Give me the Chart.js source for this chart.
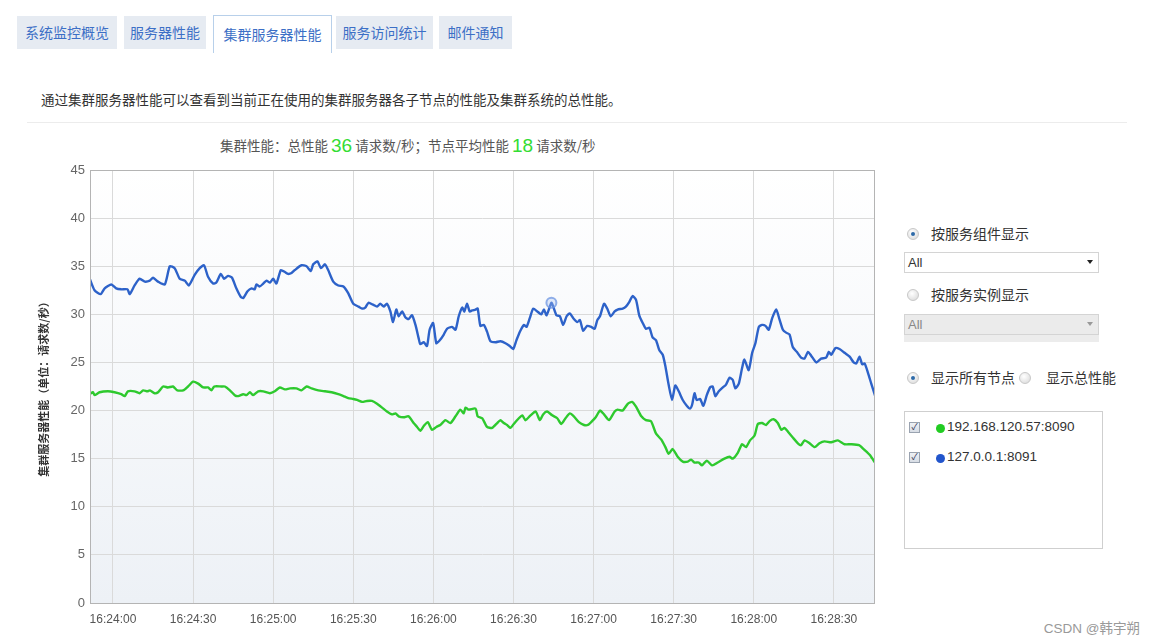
<!DOCTYPE html>
<html>
<head>
<meta charset="utf-8">
<script src="https://cdn.jsdelivr.net/npm/chart.js@4.4.0/dist/chart.umd.min.js"></script>
<style>
  html,body{margin:0;padding:0;background:#fff;width:1157px;height:643px;overflow:hidden;
    font-family:"Liberation Sans","Noto Sans CJK SC",sans-serif;}
  .abs{position:absolute;}
  .tab{position:absolute;top:16px;height:33px;line-height:33px;background:#e6ebf2;color:#3c6fc6;
    font-size:14px;text-align:center;font-family:"Noto Sans CJK SC",sans-serif;}
  .tab.active{background:#fff;border:1px solid #b8d0ea;border-bottom:none;top:15px;height:37px;line-height:37px;}
  .desc{left:41px;top:89px;font-size:13.5px;color:#333;font-family:"Noto Sans CJK SC",sans-serif;}
  .hr{left:27px;top:122px;width:1100px;height:1px;background:#ececec;}
  .ctitle{left:220px;top:135px;font-size:13.5px;color:#555;font-family:"Noto Sans CJK SC",sans-serif;white-space:nowrap;}
  .ctitle .num{color:#33dd33;font-size:19px;font-family:"Liberation Sans",sans-serif;vertical-align:-1px;}
  .radio{position:absolute;width:10px;height:10px;border-radius:50%;border:1px solid #c8c8c8;
    background:radial-gradient(circle at 40% 35%,#fff,#d6d6d6);}
  .radio.on::after{content:"";position:absolute;left:3px;top:3px;width:4px;height:4px;border-radius:50%;background:#2d6aa8;}
  .lbl{position:absolute;font-size:14px;color:#333;font-family:"Noto Sans CJK SC",sans-serif;white-space:nowrap;}
  .sel{position:absolute;left:904px;width:193px;height:19px;border:1px solid #d4d4d4;background:#fff;
    font-size:13px;color:#333;line-height:19px;}
  .sel span{margin-left:3px;}
  .sel .arr{position:absolute;right:5px;top:7px;width:0;height:0;border-left:3.5px solid transparent;border-right:3.5px solid transparent;border-top:4px solid #222;}
  .sel.dis{background:#ebebeb;color:#888;}
  .sel.dis .arr{border-top-color:#999;}
  .box{position:absolute;left:904px;top:411px;width:197px;height:136px;border:1px solid #cfcfcf;background:#fff;}
  .chk{position:absolute;width:9px;height:9px;border:1px solid #9aa3b0;background:linear-gradient(#eef1f5,#d8dde5);
    font-size:9px;line-height:9px;text-align:center;color:#335;}
  .dot{position:absolute;width:9px;height:9px;border-radius:50%;}
  .item{position:absolute;font-size:13.5px;color:#333;white-space:nowrap;}
  .wm{right:17px;top:617px;font-size:13.5px;color:#999;font-family:"Liberation Sans","Noto Sans CJK SC",sans-serif;}
</style>
</head>
<body>
<div class="tab" style="left:17px;width:100px;">系统监控概览</div>
<div class="tab" style="left:124px;width:82px;">服务器性能</div>
<div class="tab active" style="left:213px;width:117px;">集群服务器性能</div>
<div class="tab" style="left:336px;width:97px;">服务访问统计</div>
<div class="tab" style="left:439px;width:73px;">邮件通知</div>

<div class="abs desc">通过集群服务器性能可以查看到当前正在使用的集群服务器各子节点的性能及集群系统的总性能。</div>
<div class="abs hr"></div>
<div class="abs ctitle">集群性能：总性能 <span class="num">36</span> 请求数/秒；节点平均性能 <span class="num">18</span> 请求数/秒</div>

<div class="abs" style="left:0;top:150px;width:900px;height:490px;"><canvas id="c" width="900" height="490"></canvas></div>

<div class="radio on" style="left:907px;top:228px;"></div>
<div class="lbl" style="left:931px;top:223px;">按服务组件显示</div>
<div class="sel" style="top:252px;"><span>All</span><div class="arr"></div></div>
<div class="radio" style="left:907px;top:289px;"></div>
<div class="lbl" style="left:931px;top:284px;">按服务实例显示</div>
<div class="sel dis" style="top:314px;"><span>All</span><div class="arr"></div></div>
<div class="abs" style="left:904px;top:335px;width:195px;height:7px;background:#ececec;"></div>
<div class="radio on" style="left:907px;top:372px;"></div>
<div class="lbl" style="left:931px;top:367px;">显示所有节点</div>
<div class="radio" style="left:1019px;top:372px;"></div>
<div class="lbl" style="left:1046px;top:367px;">显示总性能</div>
<div class="box"></div>
<div class="chk" style="left:909px;top:422px;">✓</div>
<div class="dot" style="left:936px;top:424px;background:#22cc22;"></div>
<div class="item" style="left:947px;top:419px;">192.168.120.57:8090</div>
<div class="chk" style="left:909px;top:452px;">✓</div>
<div class="dot" style="left:936px;top:454px;background:#2255cc;"></div>
<div class="item" style="left:947px;top:449px;">127.0.0.1:8091</div>

<div class="abs wm">CSDN @韩宇朔</div>

<script>
// x values are seconds relative to 16:24:00
const xTickLabels = ['16:24:00','16:24:30','16:25:00','16:25:30','16:26:00','16:26:30','16:27:00','16:27:30','16:28:00','16:28:30'];
const yTicks = [0,5,10,15,20,25,30,35,40,45];
const seriesNames = ['192.168.120.57:8090','127.0.0.1:8091'];

const blueT = [-8.7,-6.9,-4.6,-3.1,-0.6,1.2,3.1,5.4,6.3,8.1,10.0,11.9,13.8,15.0,16.9,19.4,21.3,23.1,25.0,26.9,28.4,30.6,32.5,34.1,35.6,37.5,38.7,40.4,41.6,43.1,44.6,46.2,47.9,48.8,50.4,51.9,53.1,53.7,55.0,56.3,57.5,58.8,60.0,61.2,62.9,64.4,65.6,66.9,68.1,70.6,72.5,74.1,75.0,76.6,77.9,79.4,80.6,82.5,84.4,86.3,88.1,90.0,
 92.0,93.3,94.5,95.7,97.4,98.9,100.1,101.4,102.6,103.9,104.9,106.1,107.0,108.3,109.5,110.7,112.0,113.3,114.5,115.1,116.4,117.6,118.6,119.9,121.1,122.4,123.9,125.1,127.0,128.3,129.5,130.8,131.6,132.6,133.6,134.5,135.8,136.6,137.6,138.9,140.1,141.4,143.3,145.1,147.0,148.6,149.9,151.1,152.4,153.9,154.9,156.1,157.4,158.9,160.4,161.4,162.4,164.2,164.9,166.1,167.4,168.6,169.9,171.1,172.4,173.9,174.9,176.1,177.6,179.1,180.4,181.4,182.4,183.9,185.1,186.4,187.9,
 189.0,190.9,192.1,193.4,194.6,195.9,197.1,198.4,199.6,200.9,202.1,203.4,204.6,205.9,206.9,208.1,209.4,210.6,211.9,213.4,214.9,216.1,216.9,217.8,218.6,219.9,221.1,222.4,223.6,224.6,225.6,226.9,228.4,229.6,230.9,232.1,233.1,234.4,235.6,236.5,238.1,239.4,240.6,241.9,243.1,244.4,245.6,246.9,248.4,249.6,250.9,252.1,253.4,254.6,256.1,257.7,259.0,260.3,261.5,263.4,265.2,267.1,268.1,269.0,270.6,272.1,274.0,275.9,277.4,278.4,279.6,280.6,281.5,282.8,284.0,285.6];
const blueV = [33.7,32.5,32.1,32.7,33.1,32.7,32.6,32.6,32.1,33.0,33.7,33.4,33.5,33.8,33.4,33.1,35.0,34.8,33.7,33.5,33.0,34.1,34.8,35.1,33.9,33.2,33.3,34.2,33.7,34.0,33.8,32.7,31.8,31.7,32.4,32.7,32.6,33.1,32.9,33.2,33.5,33.3,33.7,33.2,34.6,34.4,34.2,34.3,34.6,35.1,35.0,34.5,35.2,35.5,34.8,35.2,34.6,33.4,33.0,32.9,32.2,31.1,
 30.8,30.6,30.7,31.2,31.0,30.8,31.1,30.8,31.1,30.3,29.2,30.5,29.8,30.3,29.7,29.5,29.9,28.9,27.5,26.9,27.1,26.7,28.4,29.1,27.0,27.3,27.9,28.5,28.7,28.4,29.8,30.7,30.3,31.1,30.3,30.4,30.5,30.6,28.8,28.9,28.2,27.2,27.1,27.2,27.0,26.7,26.4,27.3,28.2,28.9,28.7,29.6,30.6,30.3,30.0,30.5,29.9,31.2,30.8,29.9,29.8,28.9,29.8,30.1,29.6,29.2,29.4,28.3,28.8,28.7,28.5,29.4,29.8,31.1,30.6,29.8,30.3,
 30.5,30.6,30.8,31.3,31.9,31.5,29.9,29.1,28.5,28.6,27.6,27.3,26.3,25.8,24.6,22.7,21.1,22.6,22.0,21.1,20.5,20.2,20.6,21.8,21.1,21.2,20.5,21.6,22.4,22.5,21.5,22.0,22.4,22.7,23.4,23.2,22.3,22.8,24.4,25.3,24.2,26.0,27.0,28.7,28.9,28.8,28.4,29.6,30.5,29.5,28.4,28.1,27.9,26.6,26.1,25.5,25.4,26.1,25.7,25.0,25.4,25.5,26.1,25.8,26.5,26.4,26.0,25.6,25.0,24.9,25.6,24.8,24.9,23.9,22.8,21.4];

const greenT = [-8.7,-7.5,-6.9,-5.0,-1.9,0.6,3.1,4.4,5.6,8.1,10.0,11.3,12.9,13.8,15.6,16.9,18.8,20.6,22.5,24.1,26.3,28.1,30.0,31.9,33.8,35.6,36.9,37.9,40.6,41.9,43.8,45.6,46.9,48.8,50.0,51.3,52.5,54.4,56.3,58.8,60.6,62.5,64.4,66.3,68.7,70.6,72.5,74.4,76.9,79.4,81.9,84.4,86.3,88.1,90.0,
 91.4,93.3,95.1,97.0,98.9,100.8,102.6,104.5,105.8,107.0,108.9,110.7,112.6,113.9,115.1,116.4,117.9,119.5,121.1,122.6,124.5,126.4,128.3,130.1,131.4,132.0,133.2,135.8,136.6,138.3,140.1,142.0,143.9,145.1,146.4,147.6,148.9,150.1,152.0,153.3,154.5,156.4,158.3,159.9,161.1,162.6,164.5,166.4,167.9,169.5,171.1,172.6,174.5,176.4,177.9,179.1,180.8,182.4,183.9,185.8,187.9,
 189.0,190.9,192.8,194.4,195.9,197.9,199.6,201.5,203.4,205.3,206.9,208.1,209.6,211.5,213.4,215.3,216.5,217.8,219.4,220.6,222.4,224.4,226.5,229.0,230.9,232.1,234.0,235.6,237.1,238.6,240.3,241.5,243.1,244.6,245.9,247.4,249.0,250.3,251.5,252.8,254.6,256.5,257.7,259.0,260.9,262.8,264.6,266.5,269.0,271.5,274.0,276.5,279.4,281.5,283.4,285.6];
const greenV = [21.7,21.9,21.6,21.9,22.0,21.9,21.7,21.5,22.0,22.0,21.8,22.1,22.0,22.1,21.8,21.9,22.5,22.4,22.5,22.1,22.1,22.5,23.0,22.8,22.4,22.4,22.1,22.5,22.5,22.5,22.1,21.6,21.5,21.7,21.6,21.9,21.6,22.0,22.0,21.8,22.0,22.4,22.2,22.3,22.3,22.1,22.5,22.3,22.1,22.0,21.9,21.7,21.5,21.3,21.2,
 21.1,20.9,21.0,21.0,20.7,20.3,19.9,19.6,19.7,19.4,19.3,19.4,18.7,18.3,17.9,18.4,18.8,18.0,18.3,18.5,19.0,18.7,19.4,20.1,19.7,20.3,20.1,20.2,19.4,19.2,18.3,18.2,18.7,19.0,18.7,18.5,18.2,18.6,19.2,19.5,19.0,19.5,19.9,19.0,19.6,19.9,19.5,19.2,18.6,19.2,19.7,19.4,18.8,18.5,18.5,18.8,19.3,20.0,19.6,19.0,19.9,
 20.1,20.0,20.7,20.9,20.4,19.4,19.0,18.9,17.6,17.0,16.2,15.5,16.0,15.2,14.7,14.7,14.9,14.6,14.6,14.3,14.8,14.3,14.6,15.0,15.2,15.0,15.6,16.5,16.2,16.9,17.4,18.6,18.7,18.5,18.9,19.1,18.7,18.0,18.2,17.8,17.2,16.6,16.4,16.9,16.6,16.2,16.6,16.8,16.7,16.9,16.5,16.5,16.4,15.9,15.4,14.5];

const highlightT = 164.2;

function toSec(s){const p=s.split(':').map(Number);return (p[0]*3600+p[1]*60+p[2])-(16*3600+24*60);}
const xTickVals = xTickLabels.map(toSec);

const bluePts = blueT.map((t,i)=>({x:t,y:blueV[i]}));
const greenPts = greenT.map((t,i)=>({x:t,y:greenV[i]}));
const hlIdx = blueT.indexOf(highlightT);

const bgPlugin = {
  id:'bg',
  beforeDraw(chart){
    const {ctx,chartArea:a}=chart;
    const g=ctx.createLinearGradient(0,a.top,0,a.bottom);
    g.addColorStop(0,'#ffffff');g.addColorStop(1,'#edf1f6');
    ctx.save();ctx.fillStyle=g;ctx.fillRect(a.left,a.top,a.right-a.left,a.bottom-a.top);ctx.restore();
  },
  afterDatasetsDraw(chart){
    const {ctx,chartArea:a}=chart;
    ctx.save();ctx.strokeStyle='#b4b4b4';ctx.lineWidth=1;
    ctx.strokeRect(a.left+0.5,a.top+0.5,a.right-a.left-1,a.bottom-a.top);ctx.restore();
  }
};

new Chart(document.getElementById('c'),{
  type:'line',
  data:{datasets:[
    {label:seriesNames[1],data:bluePts,borderColor:'#2d62c9',borderWidth:2.4,tension:0.2,fill:false,
     pointRadius:ctx=>ctx.dataIndex===hlIdx?5:0,pointBorderWidth:2,
     pointBorderColor:'rgba(110,150,225,0.75)',pointBackgroundColor:'rgba(170,195,240,0.35)'},
    {label:seriesNames[0],data:greenPts,borderColor:'#2ec92e',borderWidth:2.4,tension:0.2,fill:false,pointRadius:0}
  ]},
  options:{
    responsive:false,animation:false,
    layout:{padding:{top:20,right:25,left:37,bottom:0}},
    plugins:{legend:{display:false},tooltip:{enabled:false}},
    scales:{
      x:{type:'linear',min:-8.6,max:285.4,
        afterBuildTicks:s=>{s.ticks=xTickVals.map(v=>({value:v}));},
        afterFit:s=>{s.height=37;},
        grid:{color:'#dadada',drawTicks:false},border:{display:false},
        ticks:{color:'#555',font:{size:12,family:'Liberation Sans'},padding:9,maxRotation:0,autoSkip:false,
          callback:(v)=>{const i=xTickVals.indexOf(v);return i>=0?xTickLabels[i]:'';}}
      },
      y:{min:0,max:45,
        afterBuildTicks:s=>{s.ticks=yTicks.map(v=>({value:v}));},
        afterFit:s=>{s.width=53;},
        grid:{color:'#dadada',drawTicks:false},border:{display:false},
        ticks:{color:'#666',font:{size:13,family:'Liberation Sans'},padding:5},
        title:{display:true,text:'集群服务器性能（单位：请求数/秒）',color:'#333',
          font:{size:11,family:'Noto Sans CJK SC',weight:'bold'},padding:{top:0,bottom:0}}
      }
    }
  },
  plugins:[bgPlugin]
});
</script>
</body>
</html>
